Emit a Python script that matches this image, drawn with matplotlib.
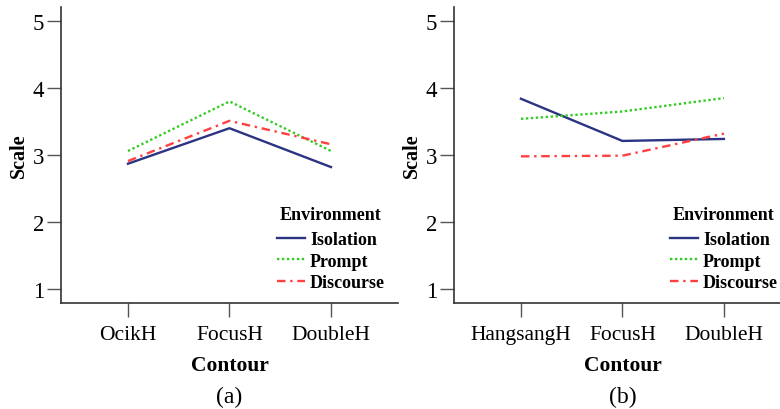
import numpy as np
import matplotlib
matplotlib.use("Agg")
import matplotlib.pyplot as plt

plt.rcParams['font.family'] = ['Liberation Serif', 'DejaVu Serif']

# panel (a)
cats_a = ['OcikH', 'FocusH', 'DoubleH']
iso_a = [2.87, 3.40, 2.82]
prompt_a = [3.06, 3.80, 3.06]
disc_a = [2.91, 3.51, 3.16]

# panel (b)
cats_b = ['HangsangH', 'FocusH', 'DoubleH']
iso_b = [3.84, 3.21, 3.24]
prompt_b = [3.54, 3.65, 3.85]
disc_b = [2.98, 2.99, 3.32]

series_names = ['Isolation', 'Prompt', 'Discourse']
colors = ['#2b3383', '#33cc22', '#ff4040']
styles = ['-', (0, (1.0, 1.1)), (0, (3.6, 2.0, 1.0, 2.0))]

fig = plt.figure(figsize=(7.8, 4.1), dpi=100)


def panel(rect, cats, data, tag):
    ax = fig.add_axes(rect)
    x = np.arange(len(cats))
    for vals, name, c, ls in zip(data, series_names, colors, styles):
        ax.plot(x, vals, color=c, linestyle=ls, lw=1.7, label=name)
    ax.set_xlim(-0.66, 2.66)
    ax.set_ylim(0.79, 5.21)
    ax.set_xticks(x)
    ax.set_xticklabels(cats, fontsize=15.5)
    ax.set_yticks([1, 2, 3, 4, 5])
    ax.tick_params(axis='y', labelsize=16.5, length=10, width=1, color='#555555', pad=2)
    ax.tick_params(axis='x', length=10, width=1, color='#555555', pad=6)
    for s in ['top', 'right']:
        ax.spines[s].set_visible(False)
    for s in ['left', 'bottom']:
        ax.spines[s].set_color('#333333')
        ax.spines[s].set_linewidth(1.2)
    ax.set_xlabel('Contour', fontsize=15.5, fontweight='bold', labelpad=8)
    ax.set_ylabel('Scale', fontsize=14.5, fontweight='bold', labelpad=3)
    ax.text(0.80, 0.30, 'Environment', transform=ax.transAxes, ha='center', va='center',
            fontsize=13, fontweight='bold')
    ax.legend(loc='upper left', bbox_to_anchor=(0.64, 0.243),
              borderaxespad=0, borderpad=0,
              frameon=False, prop={'size': 13, 'weight': 'bold'},
              handlelength=1.55, handletextpad=0.3, labelspacing=0.25)
    ax.text(0.5, -0.314, tag, transform=ax.transAxes, ha='center', va='center', fontsize=17)
    return ax


panel([0.0782, 0.2585, 0.432, 0.722], cats_a, [iso_a, prompt_a, disc_a], '(a)')
panel([0.582, 0.2585, 0.432, 0.722], cats_b, [iso_b, prompt_b, disc_b], '(b)')

fig.savefig('out.png', dpi=100)
